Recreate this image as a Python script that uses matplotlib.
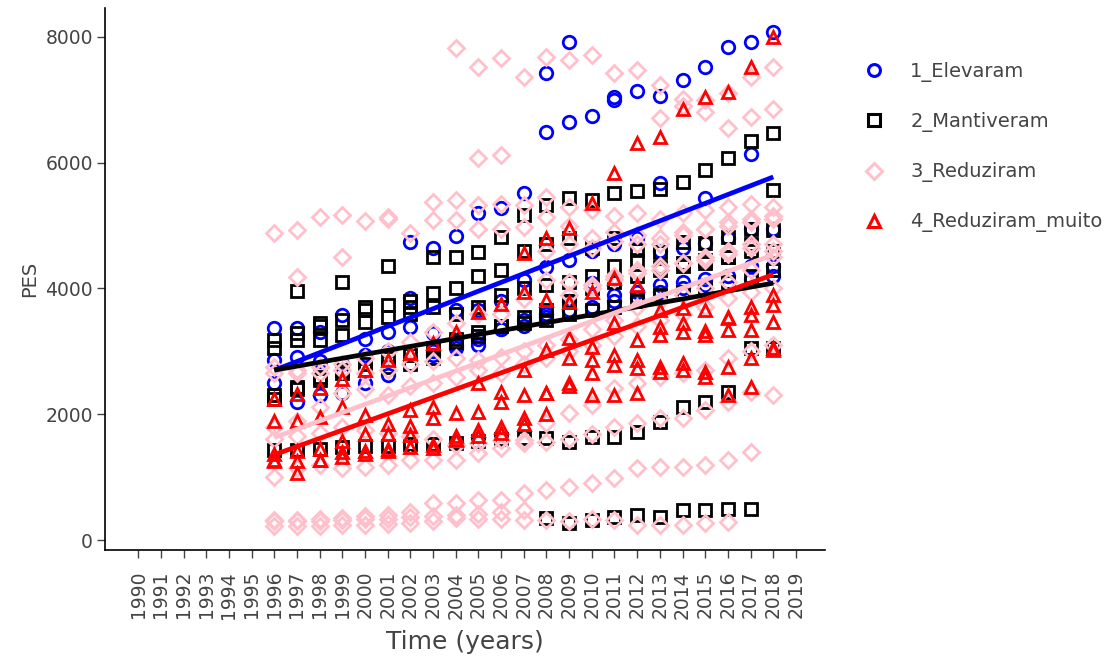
import numpy as np
import matplotlib
matplotlib.use("Agg")
import matplotlib.pyplot as plt
from matplotlib.lines import Line2D

plt.rcParams['font.family'] = ['DejaVu Sans']

years = list(range(1996, 2019))
tick_years = list(range(1990, 2020))
_ = None

# PES per unit, grouped by how the indicator evolved
elevaram = [
    [_]*12 + [6490, 6650, 6740, 7000, 7140, 7060, 7310, 7520, 7840, 7920, 8080],
    [_]*12 + [7430, 7920, _, 7050, _, _, _, _, _, _, _],
    [_]*6 + [4740, 4640, 4830, 5200, 5280, 5510, _, _, _, _, _, 5680, _, 5440, _, 6140, _],
    [3370, 3370, 3300, 3580, 3200, 3300, 3850, 3290, 3650, 3650, 3800, 4130, 4340, 4450, 4600, 4700, 4800, 4600, 4650, 4720, 4800, 4950, 4950],
    [2860, 2910, 2850, 2800, 2950, 3000, 3390, 2940, 3050, 3100, 3350, 3400, 3600, 3800, 4090, 3900, 3950, 4050, 4100, 4150, 4200, 4350, 4350],
    [2500, 2190, 2300, 2340, 2500, 2620, 2800, 3000, 3100, 3200, 3350, 3500, 3550, 3650, 3700, 3800, 3850, 3950, 4000, 4050, 4100, 4150, 4200],
]
mantiveram = [
    [_, 3960, 3400, 4100, 3700, 4360, 3800, 4500, 4500, 4580, 4820, 5170, 5330, 5440, 5400, 5510, 5550, 5580, 5690, 5880, 6070, 6350, 6470],
    [3180, 3290, 3450, 3500, 3660, 3740, 3710, 3930, 4000, 4200, 4300, 4600, 4700, 4800, 4650, 4800, 4610, 4580, 4740, 4720, 4820, 4950, 5560],
    [3050, 3180, 3180, 3260, 3470, 3550, 3600, 3700, 3600, 3700, 3900, 4000, 4050, 4100, 4200, 4350, 4450, 4340, 4400, 4450, 4500, 4700, 4930],
    [2300, 2430, 2540, 2650, 2700, 2750, 2800, 2900, 3150, 3250, 3400, 3550, 3650, 3800, 4000, 4100, 4200, 4300, 4350, 4400, 4500, 4600, 4600],
    [2250, 2400, 2600, 2700, 2800, 2900, 2950, 3050, 3200, 3300, 3400, 3450, 3500, 3600, 3650, 3700, 3800, 3900, 3950, 4000, 4100, 4200, 4300],
    [1430, 1430, 1450, 1480, 1500, 1500, 1520, 1530, 1550, 1580, 1600, 1620, 1620, 1560, 1640, 1640, 1720, 1870, 2110, 2190, 2350, 3050, 3050],
    [_]*12 + [350, 270, 320, 370, 400, 370, 470, 480, 500, 500, _],
]
reduziram = [
    [_]*8 + [7820, 7520, 7660, 7360, 7680, 7630, 7710, 7420, 7470, 7230, 7020, 7000, 7100, 7360, 7520],
    [_]*17 + [6710, 6900, 6800, 6550, 6730, 6860],
    [_]*9 + [6080, 6120] + [_]*12,
    [4880, 4930, 5140, 5170, 5080, 5140, 4880, 5370, 5400, 5330, 5340, 5330, 5450, 5300, 5250, 5150, 5200, 5100, 5200, 5250, 5300, 5350, 5300],
    [_, 4180, _, 4500, _, 5100, _, 5090, 5090, 4950, 4950, 4980, 5140, 5000, 4800, 4900, 4850, 4700, 4850, 4950, 5050, 5100, 5150],
    [_]*12 + [4600, 4700, 4650, 4750, 4700, 4800, 4900, 4950, 5000, 5050, 5100],
    [_]*13 + [3900, 4050, 4150, 4250, 4300, 4400, 4500, 4550, 4650, 4700],
    [2750, 2700, 2750, 2800, 2900, 3000, 3150, 3300, 3450, 3600, 3600, 3840, 4130, 4100, 4000, 4200, 4300, 4350, 4400, 4450, 4600, 4700, 4600],
    [2650, 2650, 2650, 2700, 2650, 2700, 2800, 2850, 2900, 2860, 2910, 3000, 3100, 3200, 3350, 3500, 3700, 3800, 3900, 4000, 4100, 4300, 4500],
    [1800, 1900, 2110, 2340, 2400, 2300, 2450, 2500, 2600, 2700, 2650, 2800, 2900, 3000, 3100, 3250, 3400, 3500, 3600, 3700, 3850, 3950, 4000],
    [1000, 1140, 1190, 1140, 1160, 1190, 1270, 1270, 1270, 1380, 1460, 1550, 1560, 1600, 1680, 1800, 1860, 1940, 1940, 2070, 2190, 2350, 2300],
    [1600, 1650, 1700, 1800, 1750, 1700, 1650, 1600, 1510, 1540, 1590, 1590, 1860, 2020, 2150, 2420, 2500, 2600, 2650, 2700, 2900, 3000, 3100],
    [320, 320, 330, 350, 380, 400, 450, 590, 590, 640, 640, 750, 790, 850, 900, 980, 1140, 1160, 1160, 1190, 1270, 1400, _],
    [220, 230, 230, 240, 240, 250, 270, 300, 350, 330, 340, 320, 320, 300, 330, 320, 240, 240, 240, 270, 290, _, _],
    [300, 310, 300, 320, 330, 340, 360, 380, 400, 420, 450, 480] + [_]*11,
]
reduziram_muito = [
    [_]*11 + [4560, 4800, 4960, 5360, 5830, 6310, 6410, 6860, 7040, 7120, 7520, 8000],
    [2250, 2330, 2420, 2560, 2700, 2860, 2970, 3130, 3300, 3620, 3750, 3950, 3810, 3790, 3940, 4170, 4050, 3660, 3690, 3660, 3530, 3710, 3900],
    [1900, 1900, 1950, 2110, 1990, 1840, 2060, 2110, 2020, 2500, 2360, 2700, 3020, 3210, 3070, 3450, 3180, 3390, 3450, 3260, 3340, 3580, 3470],
    [1370, 1420, 1450, 1580, 1680, 1680, 1820, 1940, 1590, 2030, 2200, 2300, 2340, 2890, 2860, 2940, 2860, 3260, 3310, 3320, 3550, 3340, 3740],
    [1250, 1260, 1270, 1400, 1420, 1420, 1670, 1510, 1650, 1750, 1800, 1940, 2340, 2500, 2650, 2780, 2730, 2750, 2810, 2670, 2750, 2890, 3020],
    [1280, 1060, 1280, 1320, 1370, 1450, 1480, 1460, 1600, 1650, 1700, 1850, 2000, 2450, 2300, 2300, 2340, 2670, 2700, 2600, 2300, 2430, 3050],
]

groups = [
    ("1_Elevaram", elevaram, "#0000FF", "o", 9.0),
    ("2_Mantiveram", mantiveram, "#000000", "s", 9.0),
    ("3_Reduziram", reduziram, "#FFC0CB", "D", 8.2),
    ("4_Reduziram_muito", reduziram_muito, "#FF0000", "^", 9.0),
]

fig = plt.figure(figsize=(11.2, 6.62), dpi=100)
ax = fig.add_axes([0.094, 0.169, 0.643, 0.819])

fits = []
for label, series, color, marker, ms in groups:
    xs, ys = [], []
    for s in series:
        for yr, v in zip(years, s):
            if v is not None:
                xs.append(yr)
                ys.append(v)
    xs = np.array(xs, float)
    ys = np.array(ys, float)
    ax.plot(xs, ys, linestyle='none', marker=marker, ms=ms, mfc='none',
            mec=color, mew=2.0, zorder=2)
    fits.append((xs, ys, color))

# linear trend per group
for xs, ys, color in fits:
    slope, intercept = np.polyfit(xs, ys, 1)
    xl = np.array([xs.min(), xs.max()])
    ax.plot(xl, slope * xl + intercept, color=color, lw=3.4, zorder=3,
            solid_capstyle='butt')

ax.set_xlim(1988.55, 2020.3)
ax.set_ylim(-160, 8460)
ax.set_xticks(tick_years)
ax.set_xticklabels([str(y) for y in tick_years], rotation=90)
ax.set_yticks([0, 2000, 4000, 6000, 8000])
ax.tick_params(axis='both', labelcolor='#444444', color='#444444',
               labelsize=13.5, length=6, width=1, direction='out', pad=3)
ax.tick_params(axis='x', pad=9)
for side in ('top', 'right'):
    ax.spines[side].set_visible(False)
for side in ('left', 'bottom'):
    ax.spines[side].set_color('black')
    ax.spines[side].set_linewidth(1.2)

ax.set_ylabel("PES", fontsize=14, color='#444444', labelpad=4)
ax.set_xlabel("Time (years)", fontsize=18, color='#444444', labelpad=8)

handles = [Line2D([], [], linestyle='none', marker=m, ms=ms * 0.95, mfc='none',
                  mec=c, mew=2.2, label=lab)
           for lab, _s, c, m, ms in groups]
fig.legend(handles=handles, loc='upper left', bbox_to_anchor=(0.765, 0.918),
           frameon=False, fontsize=14, labelspacing=1.55, handlelength=1.0,
           handletextpad=1.35, labelcolor='#444444', borderaxespad=0)

fig.savefig("out.png", dpi=100)
